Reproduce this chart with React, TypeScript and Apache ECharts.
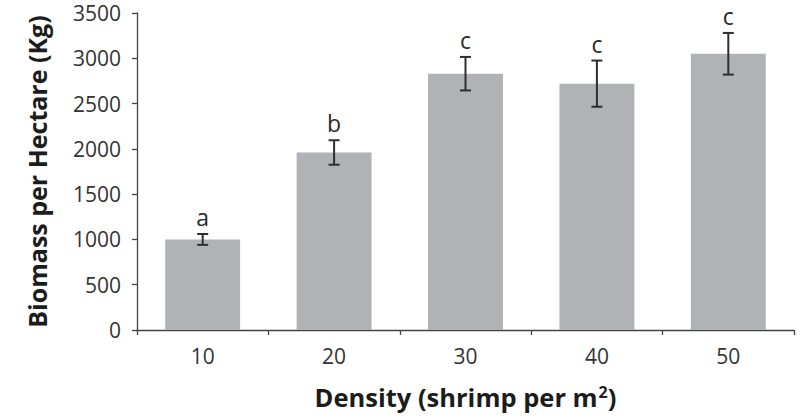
import React, { useEffect, useRef } from "react";
import * as echarts from "echarts";

const categories = ["10", "20", "30", "40", "50"];
const means = [1000, 1960, 2830, 2720, 3050];
const errors = [60, 135, 185, 255, 230];
const letters = ["a", "b", "c", "c", "c"];
const yTicks = { min: 0, max: 3500, interval: 500 };

export default function App() {
  const ref = useRef<HTMLDivElement>(null);
  useEffect(() => {
    if (!ref.current) return;
    document.body.style.margin = "0";
    const chart = echarts.init(ref.current, undefined, { renderer: "svg" });
    const font = "Open Sans";
    const titleColor = "#1c1c1c";
    const tickColor = "#333333";
    chart.setOption({
      animation: false,
      textStyle: { fontFamily: font },
      grid: { left: 137, right: 12, top: 13, bottom: 89, containLabel: false },
      xAxis: {
        type: "category",
        data: categories,
        name: "{a|Density (shrimp per m}{s|2}{a|)}",
        nameLocation: "middle",
        nameGap: 54,
        nameTextStyle: {
          rich: {
            a: { fontSize: 25.5, fontWeight: "bold", color: titleColor, fontFamily: font },
            s: { fontSize: 16, fontWeight: "bold", color: titleColor, fontFamily: font, verticalAlign: "top", padding: [0, 0, 0, 1] },
          },
        },
        axisLine: { show: true, lineStyle: { color: "#444", width: 1.3 } },
        axisTick: { show: true, length: 5, inside: false, lineStyle: { color: "#444", width: 1.3 } },
        axisLabel: { fontSize: 21, color: tickColor, margin: 15, fontFamily: font },
        splitLine: { show: false },
      },
      yAxis: {
        type: "value",
        min: yTicks.min,
        max: yTicks.max,
        interval: yTicks.interval,
        name: "Biomass per Hectare (Kg)",
        nameLocation: "middle",
        nameGap: 88,
        nameRotate: 90,
        nameTextStyle: { fontSize: 25, fontWeight: "bold", color: titleColor, fontFamily: font },
        axisLine: { show: true, lineStyle: { color: "#444", width: 1.3 } },
        axisTick: { show: true, length: 5, inside: false, lineStyle: { color: "#444", width: 1.3 } },
        axisLabel: { fontSize: 21, color: tickColor, margin: 16, fontFamily: font, formatter: (v: number) => String(v) },
        splitLine: { show: false },
      },
      series: [
        {
          type: "bar",
          data: means,
          barWidth: "57%",
          itemStyle: { color: "#b1b2b6" },
        },
        {
          type: "custom",
          data: means.map((m, i) => [i, m, errors[i]]),
          z: 5,
          renderItem: (params: any, api: any) => {
            const i = api.value(0);
            const m = api.value(1);
            const e = api.value(2);
            const top = api.coord([i, m + e]);
            const bot = api.coord([i, m - e]);
            const x = top[0];
            const cw = 5.5;
            const ls = { stroke: "#2e2e2e", lineWidth: 2 };
            return {
              type: "group",
              children: [
                { type: "line", shape: { x1: x, y1: top[1], x2: x, y2: bot[1] }, style: ls },
                { type: "line", shape: { x1: x - cw, y1: top[1], x2: x + cw, y2: top[1] }, style: ls },
                { type: "line", shape: { x1: x - cw, y1: bot[1], x2: x + cw, y2: bot[1] }, style: ls },
                {
                  type: "text",
                  x: x,
                  y: top[1] - 17,
                  style: {
                    text: letters[params.dataIndex],
                    fontSize: 23,
                    lineHeight: 20,
                    fontFamily: font,
                    fill: "#2a2a2a",
                    align: "center",
                    verticalAlign: "middle",
                  },
                },
              ],
            };
          },
        },
      ],
    });
    return () => chart.dispose();
  }, []);
  return <div ref={ref} style={{ width: 806, height: 419 }} />;
}
